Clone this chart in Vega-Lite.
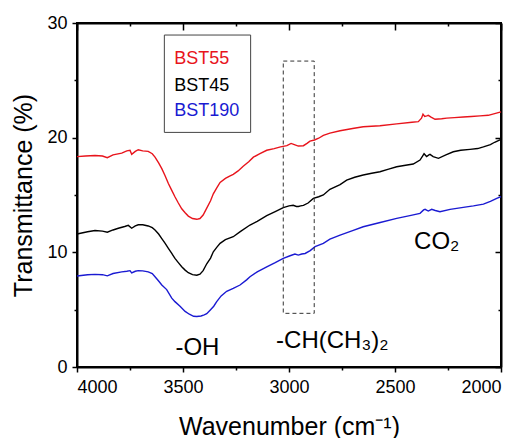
{
  "$schema": "https://vega.github.io/schema/vega-lite/v6.json",
  "width": 424,
  "height": 344,
  "autosize": {"type": "none"},
  "padding": {"left": 77, "top": 23, "right": 22, "bottom": 71},
  "background": "white",
  "config": {
    "font": "Liberation Sans",
    "view": {"stroke": "black", "strokeWidth": 2},
    "axis": {
      "grid": false,
      "domainColor": "black",
      "domainWidth": 2,
      "tickColor": "black",
      "tickWidth": 1.5,
      "tickSize": 5,
      "labelFont": "Liberation Sans",
      "labelFontSize": 18,
      "labelColor": "black",
      "titleFont": "Liberation Sans",
      "titleFontSize": 25,
      "titleFontWeight": "normal",
      "titleColor": "black"
    }
  },
  "resolve": {"axis": {"x": "independent", "y": "independent"}},
  "layer": [
    {
      "data": {
        "values": [
          {"s":"BST55","wn":4000,"t":18.35},{"s":"BST55","wn":3960,"t":18.4},{"s":"BST55","wn":3915,"t":18.45},{"s":"BST55","wn":3880,"t":18.4},{"s":"BST55","wn":3857,"t":18.25},{"s":"BST55","wn":3830,"t":18.5},{"s":"BST55","wn":3789,"t":18.65},{"s":"BST55","wn":3765,"t":18.85},{"s":"BST55","wn":3750,"t":18.9},{"s":"BST55","wn":3742,"t":18.55},{"s":"BST55","wn":3725,"t":18.8},{"s":"BST55","wn":3711,"t":18.95},{"s":"BST55","wn":3690,"t":18.85},{"s":"BST55","wn":3664,"t":18.8},{"s":"BST55","wn":3645,"t":18.6},{"s":"BST55","wn":3632,"t":18.3},{"s":"BST55","wn":3615,"t":17.8},{"s":"BST55","wn":3600,"t":17.3},{"s":"BST55","wn":3585,"t":16.7},{"s":"BST55","wn":3569,"t":16.0},{"s":"BST55","wn":3553,"t":15.4},{"s":"BST55","wn":3538,"t":14.85},{"s":"BST55","wn":3522,"t":14.3},{"s":"BST55","wn":3506,"t":13.8},{"s":"BST55","wn":3490,"t":13.45},{"s":"BST55","wn":3475,"t":13.16},{"s":"BST55","wn":3455,"t":12.95},{"s":"BST55","wn":3435,"t":12.88},{"s":"BST55","wn":3420,"t":12.95},{"s":"BST55","wn":3405,"t":13.25},{"s":"BST55","wn":3388,"t":13.85},{"s":"BST55","wn":3370,"t":14.5},{"s":"BST55","wn":3357,"t":15.1},{"s":"BST55","wn":3340,"t":15.65},{"s":"BST55","wn":3325,"t":16.1},{"s":"BST55","wn":3300,"t":16.45},{"s":"BST55","wn":3280,"t":16.65},{"s":"BST55","wn":3263,"t":16.8},{"s":"BST55","wn":3240,"t":17.1},{"s":"BST55","wn":3216,"t":17.5},{"s":"BST55","wn":3190,"t":17.9},{"s":"BST55","wn":3168,"t":18.3},{"s":"BST55","wn":3137,"t":18.6},{"s":"BST55","wn":3105,"t":18.9},{"s":"BST55","wn":3070,"t":19.05},{"s":"BST55","wn":3040,"t":19.2},{"s":"BST55","wn":3010,"t":19.3},{"s":"BST55","wn":2990,"t":19.5},{"s":"BST55","wn":2975,"t":19.4},{"s":"BST55","wn":2956,"t":19.27},{"s":"BST55","wn":2932,"t":19.3},{"s":"BST55","wn":2915,"t":19.5},{"s":"BST55","wn":2901,"t":19.7},{"s":"BST55","wn":2880,"t":19.8},{"s":"BST55","wn":2860,"t":19.95},{"s":"BST55","wn":2838,"t":20.2},{"s":"BST55","wn":2807,"t":20.4},{"s":"BST55","wn":2759,"t":20.6},{"s":"BST55","wn":2700,"t":20.8},{"s":"BST55","wn":2650,"t":20.95},{"s":"BST55","wn":2571,"t":21.04},{"s":"BST55","wn":2492,"t":21.2},{"s":"BST55","wn":2420,"t":21.35},{"s":"BST55","wn":2390,"t":21.4},{"s":"BST55","wn":2375,"t":21.7},{"s":"BST55","wn":2368,"t":22.05},{"s":"BST55","wn":2360,"t":21.85},{"s":"BST55","wn":2350,"t":21.9},{"s":"BST55","wn":2343,"t":21.95},{"s":"BST55","wn":2330,"t":21.8},{"s":"BST55","wn":2311,"t":21.6},{"s":"BST55","wn":2280,"t":21.65},{"s":"BST55","wn":2256,"t":21.7},{"s":"BST55","wn":2220,"t":21.75},{"s":"BST55","wn":2178,"t":21.8},{"s":"BST55","wn":2140,"t":21.85},{"s":"BST55","wn":2099,"t":21.9},{"s":"BST55","wn":2060,"t":21.95},{"s":"BST55","wn":2030,"t":22.1},{"s":"BST55","wn":2000,"t":22.25},
          {"s":"BST45","wn":4000,"t":11.6},{"s":"BST45","wn":3950,"t":11.8},{"s":"BST45","wn":3915,"t":11.9},{"s":"BST45","wn":3880,"t":11.85},{"s":"BST45","wn":3857,"t":11.75},{"s":"BST45","wn":3830,"t":11.95},{"s":"BST45","wn":3805,"t":12.1},{"s":"BST45","wn":3775,"t":12.25},{"s":"BST45","wn":3758,"t":12.35},{"s":"BST45","wn":3742,"t":12.1},{"s":"BST45","wn":3725,"t":12.3},{"s":"BST45","wn":3711,"t":12.4},{"s":"BST45","wn":3690,"t":12.4},{"s":"BST45","wn":3664,"t":12.3},{"s":"BST45","wn":3645,"t":12.15},{"s":"BST45","wn":3632,"t":11.95},{"s":"BST45","wn":3615,"t":11.6},{"s":"BST45","wn":3600,"t":11.2},{"s":"BST45","wn":3585,"t":10.8},{"s":"BST45","wn":3569,"t":10.35},{"s":"BST45","wn":3553,"t":9.9},{"s":"BST45","wn":3538,"t":9.47},{"s":"BST45","wn":3522,"t":9.1},{"s":"BST45","wn":3506,"t":8.74},{"s":"BST45","wn":3490,"t":8.45},{"s":"BST45","wn":3475,"t":8.22},{"s":"BST45","wn":3455,"t":8.05},{"s":"BST45","wn":3435,"t":8.0},{"s":"BST45","wn":3420,"t":8.1},{"s":"BST45","wn":3405,"t":8.4},{"s":"BST45","wn":3388,"t":9.0},{"s":"BST45","wn":3370,"t":9.5},{"s":"BST45","wn":3357,"t":10.05},{"s":"BST45","wn":3340,"t":10.45},{"s":"BST45","wn":3325,"t":10.78},{"s":"BST45","wn":3300,"t":11.1},{"s":"BST45","wn":3263,"t":11.36},{"s":"BST45","wn":3230,"t":11.8},{"s":"BST45","wn":3184,"t":12.38},{"s":"BST45","wn":3150,"t":12.7},{"s":"BST45","wn":3105,"t":13.2},{"s":"BST45","wn":3065,"t":13.55},{"s":"BST45","wn":3027,"t":13.9},{"s":"BST45","wn":3000,"t":14.05},{"s":"BST45","wn":2980,"t":14.1},{"s":"BST45","wn":2965,"t":14.0},{"s":"BST45","wn":2956,"t":14.0},{"s":"BST45","wn":2945,"t":14.05},{"s":"BST45","wn":2932,"t":14.1},{"s":"BST45","wn":2910,"t":14.3},{"s":"BST45","wn":2885,"t":14.7},{"s":"BST45","wn":2860,"t":14.85},{"s":"BST45","wn":2838,"t":15.0},{"s":"BST45","wn":2807,"t":15.5},{"s":"BST45","wn":2759,"t":15.9},{"s":"BST45","wn":2728,"t":16.3},{"s":"BST45","wn":2690,"t":16.55},{"s":"BST45","wn":2650,"t":16.74},{"s":"BST45","wn":2610,"t":16.9},{"s":"BST45","wn":2571,"t":17.03},{"s":"BST45","wn":2530,"t":17.25},{"s":"BST45","wn":2492,"t":17.46},{"s":"BST45","wn":2450,"t":17.6},{"s":"BST45","wn":2414,"t":17.7},{"s":"BST45","wn":2382,"t":18.05},{"s":"BST45","wn":2370,"t":18.4},{"s":"BST45","wn":2363,"t":18.6},{"s":"BST45","wn":2351,"t":18.35},{"s":"BST45","wn":2340,"t":18.5},{"s":"BST45","wn":2335,"t":18.54},{"s":"BST45","wn":2320,"t":18.35},{"s":"BST45","wn":2295,"t":18.2},{"s":"BST45","wn":2260,"t":18.5},{"s":"BST45","wn":2225,"t":18.77},{"s":"BST45","wn":2190,"t":18.9},{"s":"BST45","wn":2146,"t":18.98},{"s":"BST45","wn":2110,"t":19.05},{"s":"BST45","wn":2083,"t":19.2},{"s":"BST45","wn":2050,"t":19.4},{"s":"BST45","wn":2030,"t":19.6},{"s":"BST45","wn":2000,"t":19.85},
          {"s":"BST190","wn":4000,"t":7.93},{"s":"BST190","wn":3950,"t":8.05},{"s":"BST190","wn":3915,"t":8.08},{"s":"BST190","wn":3880,"t":8.05},{"s":"BST190","wn":3857,"t":7.95},{"s":"BST190","wn":3830,"t":8.15},{"s":"BST190","wn":3789,"t":8.3},{"s":"BST190","wn":3765,"t":8.35},{"s":"BST190","wn":3750,"t":8.4},{"s":"BST190","wn":3742,"t":8.2},{"s":"BST190","wn":3725,"t":8.35},{"s":"BST190","wn":3711,"t":8.4},{"s":"BST190","wn":3690,"t":8.38},{"s":"BST190","wn":3664,"t":8.3},{"s":"BST190","wn":3645,"t":8.15},{"s":"BST190","wn":3632,"t":7.87},{"s":"BST190","wn":3615,"t":7.5},{"s":"BST190","wn":3600,"t":7.15},{"s":"BST190","wn":3577,"t":6.75},{"s":"BST190","wn":3553,"t":6.0},{"s":"BST190","wn":3538,"t":5.7},{"s":"BST190","wn":3514,"t":5.3},{"s":"BST190","wn":3490,"t":4.85},{"s":"BST190","wn":3470,"t":4.6},{"s":"BST190","wn":3450,"t":4.42},{"s":"BST190","wn":3435,"t":4.4},{"s":"BST190","wn":3415,"t":4.45},{"s":"BST190","wn":3400,"t":4.55},{"s":"BST190","wn":3388,"t":4.65},{"s":"BST190","wn":3370,"t":5.0},{"s":"BST190","wn":3355,"t":5.3},{"s":"BST190","wn":3341,"t":5.7},{"s":"BST190","wn":3320,"t":6.2},{"s":"BST190","wn":3294,"t":6.6},{"s":"BST190","wn":3263,"t":6.86},{"s":"BST190","wn":3231,"t":7.15},{"s":"BST190","wn":3200,"t":7.6},{"s":"BST190","wn":3184,"t":7.87},{"s":"BST190","wn":3150,"t":8.3},{"s":"BST190","wn":3105,"t":8.74},{"s":"BST190","wn":3065,"t":9.1},{"s":"BST190","wn":3027,"t":9.47},{"s":"BST190","wn":2995,"t":9.7},{"s":"BST190","wn":2972,"t":9.85},{"s":"BST190","wn":2956,"t":9.76},{"s":"BST190","wn":2940,"t":9.85},{"s":"BST190","wn":2924,"t":9.9},{"s":"BST190","wn":2900,"t":10.15},{"s":"BST190","wn":2877,"t":10.5},{"s":"BST190","wn":2838,"t":10.78},{"s":"BST190","wn":2807,"t":11.15},{"s":"BST190","wn":2759,"t":11.5},{"s":"BST190","wn":2700,"t":11.9},{"s":"BST190","wn":2650,"t":12.23},{"s":"BST190","wn":2570,"t":12.6},{"s":"BST190","wn":2492,"t":12.96},{"s":"BST190","wn":2430,"t":13.2},{"s":"BST190","wn":2382,"t":13.4},{"s":"BST190","wn":2365,"t":13.7},{"s":"BST190","wn":2358,"t":13.75},{"s":"BST190","wn":2343,"t":13.6},{"s":"BST190","wn":2327,"t":13.75},{"s":"BST190","wn":2310,"t":13.65},{"s":"BST190","wn":2288,"t":13.54},{"s":"BST190","wn":2240,"t":13.75},{"s":"BST190","wn":2178,"t":13.92},{"s":"BST190","wn":2130,"t":14.05},{"s":"BST190","wn":2083,"t":14.2},{"s":"BST190","wn":2050,"t":14.45},{"s":"BST190","wn":2020,"t":14.7},{"s":"BST190","wn":2000,"t":14.85}
        ]
      },
      "mark": {"type": "line", "strokeWidth": 1.4},
      "encoding": {
        "x": {
          "field": "wn", "type": "quantitative",
          "scale": {"domain": [2000, 4000], "reverse": true, "nice": false, "zero": false},
          "axis": {
            "orient": "bottom",
            "values": [2000, 2500, 3000, 3500, 4000],
            "format": "d",
            "tickSize": 5,
            "title": "Wavenumber (cm⁻¹)",
            "labelPadding": 6,
            "titlePadding": 18
          }
        },
        "y": {
          "field": "t", "type": "quantitative",
          "scale": {"domain": [0, 30], "nice": false},
          "axis": {
            "orient": "left",
            "values": [0, 10, 20, 30],
            "format": "d",
            "tickSize": 5,
            "title": "Transmittance (%)",
            "labelPadding": 5,
            "titlePadding": 10
          }
        },
        "color": {
          "field": "s", "type": "nominal",
          "scale": {"domain": ["BST55", "BST45", "BST190"], "range": ["#e8141c", "#000000", "#1a1ad2"]},
          "legend": null
        },
        "detail": {"field": "s"}
      }
    },
    {
      "data": {"values": [{}]},
      "mark": {"type": "rect", "fill": null, "fillOpacity": 0, "stroke": "#333333", "strokeWidth": 1, "strokeDash": [4, 3]},
      "encoding": {
        "x": {"datum": 3027, "type": "quantitative", "axis": {"orient": "top", "labels": false, "title": null, "tickSize": -7, "values": [2000, 2500, 3000, 3500, 4000]}},
        "x2": {"datum": 2881},
        "y": {"datum": 4.68, "type": "quantitative", "axis": {"orient": "right", "labels": false, "title": null, "tickSize": -6, "values": [0, 10, 20, 30]}},
        "y2": {"datum": 26.68}
      }
    },
    {
      "data": {"values": [{}]},
      "mark": {"type": "rect", "fill": null, "fillOpacity": 0, "stroke": "#444444", "strokeWidth": 1},
      "encoding": {
        "x": {"datum": 3588, "type": "quantitative", "axis": {"orient": "bottom", "labels": false, "title": null, "domain": false, "tickSize": 3, "values": [2250, 2750, 3250, 3750]}},
        "x2": {"datum": 3181},
        "y": {"datum": 20.46, "type": "quantitative", "axis": {"orient": "left", "labels": false, "title": null, "domain": false, "tickSize": 3, "values": [5, 15, 25]}},
        "y2": {"datum": 28.95}
      }
    },
    {
      "data": {"values": [{}]},
      "mark": {"type": "text", "text": "BST55", "align": "left", "baseline": "alphabetic", "fontSize": 18, "color": "#e8141c"},
      "encoding": {
        "x": {"datum": 3541, "type": "quantitative", "axis": {"orient": "top", "labels": false, "title": null, "domain": false, "tickSize": -3, "values": [2250, 2750, 3250, 3750]}},
        "y": {"datum": 26.42, "type": "quantitative", "axis": {"orient": "right", "labels": false, "title": null, "domain": false, "tickSize": -3, "values": [5, 15, 25]}}
      }
    },
    {
      "data": {"values": [{}]},
      "mark": {"type": "text", "text": "BST45", "align": "left", "baseline": "alphabetic", "fontSize": 18, "color": "#000000"},
      "encoding": {"x": {"datum": 3541, "type": "quantitative", "axis": null}, "y": {"datum": 24.09, "type": "quantitative", "axis": null}}
    },
    {
      "data": {"values": [{}]},
      "mark": {"type": "text", "text": "BST190", "align": "left", "baseline": "alphabetic", "fontSize": 18, "color": "#1a1ad2"},
      "encoding": {"x": {"datum": 3541, "type": "quantitative", "axis": null}, "y": {"datum": 21.88, "type": "quantitative", "axis": null}}
    },
    {
      "data": {"values": [{}]},
      "mark": {"type": "text", "text": "-OH", "align": "center", "baseline": "alphabetic", "fontSize": 24, "color": "#000000"},
      "encoding": {"x": {"datum": 3432, "type": "quantitative", "axis": null}, "y": {"datum": 1.05, "type": "quantitative", "axis": null}}
    },
    {
      "data": {"values": [{}]},
      "mark": {"type": "text", "text": "-CH(CH₃)₂", "align": "left", "baseline": "alphabetic", "fontSize": 24, "color": "#000000"},
      "encoding": {"x": {"datum": 3061, "type": "quantitative", "axis": null}, "y": {"datum": 1.63, "type": "quantitative", "axis": null}}
    },
    {
      "data": {"values": [{}]},
      "mark": {"type": "text", "text": "CO₂", "align": "left", "baseline": "alphabetic", "fontSize": 24, "color": "#000000"},
      "encoding": {"x": {"datum": 2410, "type": "quantitative", "axis": null}, "y": {"datum": 10.26, "type": "quantitative", "axis": null}}
    }
  ]
}
